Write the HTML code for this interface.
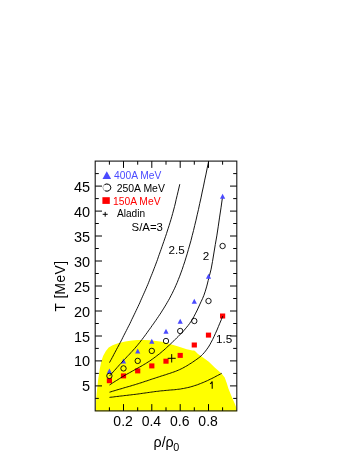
<!DOCTYPE html>
<html><head><meta charset="utf-8"><title>T vs rho</title>
<style>html,body{margin:0;padding:0;background:#fff;}body{width:360px;height:466px;overflow:hidden;}svg{display:block;will-change:transform;opacity:0.999;}text{font-family:"Liberation Sans",sans-serif;}</style>
</head><body>
<svg width="360" height="466" viewBox="0 0 360 466">
<rect x="0" y="0" width="360" height="466" fill="#ffffff"/>
<polygon fill="#ffff00" points="95.3,411.2 96.5,395.0 98.1,380.0 99.8,368.7 101.4,360.9 103.1,355.9 105.9,350.9 108.7,347.6 112.6,345.3 118.7,343.1 125.3,341.5 132.0,340.4 137.0,339.9 144.0,339.9 150.0,340.3 156.0,341.0 161.7,341.8 167.0,343.0 170.0,343.9 178.3,346.4 186.7,349.3 192.5,350.6 194.2,350.4 195.5,351.6 198.0,354.0 203.0,357.5 208.8,361.7 214.7,367.5 221.8,373.8 224.7,377.5 226.8,383.3 228.3,388.3 231.7,396.7 235.0,404.2 236.5,408.3 236.9,411.2"/>
<g stroke="#151515" stroke-width="1.1" fill="none">
<rect x="95.2" y="161.1" width="141.6" height="249.8"/>
</g>
<g stroke="#000" stroke-width="1" fill="none">
<line x1="109.4" y1="410.9" x2="109.4" y2="407.3"/>
<line x1="109.4" y1="161.1" x2="109.4" y2="164.7"/>
<line x1="123.5" y1="410.9" x2="123.5" y2="404.1"/>
<line x1="123.5" y1="161.1" x2="123.5" y2="167.9"/>
<line x1="137.7" y1="410.9" x2="137.7" y2="407.3"/>
<line x1="137.7" y1="161.1" x2="137.7" y2="164.7"/>
<line x1="151.8" y1="410.9" x2="151.8" y2="404.1"/>
<line x1="151.8" y1="161.1" x2="151.8" y2="167.9"/>
<line x1="166.0" y1="410.9" x2="166.0" y2="407.3"/>
<line x1="166.0" y1="161.1" x2="166.0" y2="164.7"/>
<line x1="180.2" y1="410.9" x2="180.2" y2="404.1"/>
<line x1="180.2" y1="161.1" x2="180.2" y2="167.9"/>
<line x1="194.3" y1="410.9" x2="194.3" y2="407.3"/>
<line x1="194.3" y1="161.1" x2="194.3" y2="164.7"/>
<line x1="208.5" y1="410.9" x2="208.5" y2="404.1"/>
<line x1="208.5" y1="161.1" x2="208.5" y2="167.9"/>
<line x1="222.6" y1="410.9" x2="222.6" y2="407.3"/>
<line x1="222.6" y1="161.1" x2="222.6" y2="164.7"/>
<line x1="95.2" y1="398.4" x2="98.8" y2="398.4"/>
<line x1="236.8" y1="398.4" x2="233.2" y2="398.4"/>
<line x1="95.2" y1="385.9" x2="102.0" y2="385.9"/>
<line x1="236.8" y1="385.9" x2="230.0" y2="385.9"/>
<line x1="95.2" y1="373.4" x2="98.8" y2="373.4"/>
<line x1="236.8" y1="373.4" x2="233.2" y2="373.4"/>
<line x1="95.2" y1="360.9" x2="102.0" y2="360.9"/>
<line x1="236.8" y1="360.9" x2="230.0" y2="360.9"/>
<line x1="95.2" y1="348.4" x2="98.8" y2="348.4"/>
<line x1="236.8" y1="348.4" x2="233.2" y2="348.4"/>
<line x1="95.2" y1="336.0" x2="102.0" y2="336.0"/>
<line x1="236.8" y1="336.0" x2="230.0" y2="336.0"/>
<line x1="95.2" y1="323.5" x2="98.8" y2="323.5"/>
<line x1="236.8" y1="323.5" x2="233.2" y2="323.5"/>
<line x1="95.2" y1="311.0" x2="102.0" y2="311.0"/>
<line x1="236.8" y1="311.0" x2="230.0" y2="311.0"/>
<line x1="95.2" y1="298.5" x2="98.8" y2="298.5"/>
<line x1="236.8" y1="298.5" x2="233.2" y2="298.5"/>
<line x1="95.2" y1="286.0" x2="102.0" y2="286.0"/>
<line x1="236.8" y1="286.0" x2="230.0" y2="286.0"/>
<line x1="95.2" y1="273.5" x2="98.8" y2="273.5"/>
<line x1="236.8" y1="273.5" x2="233.2" y2="273.5"/>
<line x1="95.2" y1="261.0" x2="102.0" y2="261.0"/>
<line x1="236.8" y1="261.0" x2="230.0" y2="261.0"/>
<line x1="95.2" y1="248.5" x2="98.8" y2="248.5"/>
<line x1="236.8" y1="248.5" x2="233.2" y2="248.5"/>
<line x1="95.2" y1="236.0" x2="102.0" y2="236.0"/>
<line x1="236.8" y1="236.0" x2="230.0" y2="236.0"/>
<line x1="95.2" y1="223.5" x2="98.8" y2="223.5"/>
<line x1="236.8" y1="223.5" x2="233.2" y2="223.5"/>
<line x1="95.2" y1="211.1" x2="102.0" y2="211.1"/>
<line x1="236.8" y1="211.1" x2="230.0" y2="211.1"/>
<line x1="95.2" y1="198.6" x2="98.8" y2="198.6"/>
<line x1="236.8" y1="198.6" x2="233.2" y2="198.6"/>
<line x1="95.2" y1="186.1" x2="102.0" y2="186.1"/>
<line x1="236.8" y1="186.1" x2="230.0" y2="186.1"/>
<line x1="95.2" y1="173.6" x2="98.8" y2="173.6"/>
<line x1="236.8" y1="173.6" x2="233.2" y2="173.6"/>
</g>
<g font-size="14.5px" fill="#000">
<text x="90.1" y="391.4" text-anchor="end">5</text>
<text x="90.1" y="366.4" text-anchor="end">10</text>
<text x="90.1" y="341.5" text-anchor="end">15</text>
<text x="90.1" y="316.5" text-anchor="end">20</text>
<text x="90.1" y="291.5" text-anchor="end">25</text>
<text x="90.1" y="266.5" text-anchor="end">30</text>
<text x="90.1" y="241.5" text-anchor="end">35</text>
<text x="90.1" y="216.6" text-anchor="end">40</text>
<text x="90.1" y="191.6" text-anchor="end">45</text>
</g>
<g font-size="14.0px" fill="#000">
<text x="123.1" y="426.1" text-anchor="middle">0.2</text>
<text x="151.4" y="426.1" text-anchor="middle">0.4</text>
<text x="179.8" y="426.1" text-anchor="middle">0.6</text>
<text x="208.1" y="426.1" text-anchor="middle">0.8</text>
</g>
<text font-size="13.8px" letter-spacing="0.4" transform="translate(65.0,286.0) rotate(-90)" text-anchor="middle">T [MeV]</text>
<text font-size="14.3px" x="153.5" y="447">ρ/ρ<tspan font-size="10.8px" dx="-0.6" dy="3.8">0</tspan></text>
<rect fill="#ff0000" x="106.8" y="378.2" width="5.2" height="5.0"/>
<rect fill="#ff0000" x="120.9" y="373.4" width="5.2" height="5.0"/>
<rect fill="#ff0000" x="135.1" y="368.4" width="5.2" height="5.0"/>
<rect fill="#ff0000" x="149.2" y="363.4" width="5.2" height="5.0"/>
<rect fill="#ff0000" x="163.4" y="358.7" width="5.2" height="5.0"/>
<rect fill="#ff0000" x="177.6" y="352.9" width="5.2" height="5.0"/>
<rect fill="#ff0000" x="191.7" y="342.5" width="5.2" height="5.0"/>
<rect fill="#ff0000" x="205.9" y="332.6" width="5.2" height="5.0"/>
<rect fill="#ff0000" x="220.0" y="313.5" width="5.2" height="5.0"/>
<path d="M109.5,397.4 L110.9,397.2 L112.3,397.1 L113.8,396.9 L115.2,396.7 L116.6,396.5 L118.0,396.4 L119.4,396.2 L120.9,396.0 L122.3,395.9 L123.7,395.7 L125.1,395.5 L126.5,395.4 L128.0,395.2 L129.4,395.0 L130.8,394.9 L132.2,394.7 L133.6,394.5 L135.1,394.4 L136.5,394.2 L137.9,394.0 L139.3,393.8 L140.7,393.6 L142.2,393.4 L143.6,393.2 L145.0,393.0 L146.4,392.8 L147.8,392.6 L149.3,392.4 L150.7,392.2 L152.1,392.0 L153.5,391.8 L154.9,391.6 L156.4,391.4 L157.8,391.3 L159.2,391.1 L160.6,390.9 L162.0,390.8 L163.5,390.7 L164.9,390.5 L166.3,390.4 L167.7,390.3 L169.2,390.1 L170.6,390.0 L172.0,389.9 L173.4,389.8 L174.8,389.7 L176.3,389.5 L177.7,389.3 L179.1,389.2 L180.5,389.0 L181.9,388.7 L183.4,388.5 L184.8,388.2 L186.2,387.9 L187.6,387.6 L189.0,387.3 L190.5,386.9 L191.9,386.5 L193.3,386.1 L194.7,385.6 L196.1,385.2 L197.6,384.7 L199.0,384.1 L200.4,383.6 L201.8,383.0 L203.2,382.5 L204.7,381.8 L206.1,381.2 L207.5,380.6 L208.9,379.9 L210.3,379.2 L211.8,378.5 L213.2,377.8 L214.6,377.1 L216.0,376.3 L217.4,375.6 L218.9,374.8 L220.3,374.1 L221.7,373.3" fill="none" stroke="#000" stroke-width="0.92"/>
<path d="M109.5,392.2 L110.9,391.8 L112.4,391.3 L113.8,390.9 L115.2,390.5 L116.7,390.0 L118.1,389.6 L119.5,389.2 L121.0,388.8 L122.4,388.4 L123.8,387.9 L125.3,387.5 L126.7,387.1 L128.1,386.7 L129.6,386.3 L131.0,385.9 L132.4,385.4 L133.9,385.0 L135.3,384.6 L136.7,384.1 L138.2,383.7 L139.6,383.2 L141.0,382.8 L142.5,382.3 L143.9,381.8 L145.3,381.3 L146.8,380.9 L148.2,380.4 L149.6,379.9 L151.1,379.4 L152.5,378.9 L153.9,378.5 L155.4,378.0 L156.8,377.5 L158.2,377.1 L159.7,376.6 L161.1,376.1 L162.5,375.7 L164.0,375.2 L165.4,374.8 L166.8,374.3 L168.2,373.8 L169.7,373.4 L171.1,372.9 L172.5,372.4 L174.0,371.9 L175.4,371.4 L176.8,370.8 L178.3,370.2 L179.7,369.6 L181.1,368.9 L182.6,368.2 L184.0,367.4 L185.4,366.6 L186.9,365.8 L188.3,364.9 L189.7,364.0 L191.2,363.1 L192.6,362.2 L194.0,361.2 L195.5,360.2 L196.9,359.2 L198.3,358.2 L199.8,357.0 L201.2,355.8 L202.6,354.4 L204.1,352.8 L205.5,351.1 L206.9,349.2 L208.4,347.1 L209.8,344.8 L211.2,342.2 L212.7,339.4 L214.1,336.4 L215.5,333.3 L217.0,330.0 L218.4,326.6 L219.8,323.2 L221.3,319.7 L222.7,316.2" fill="none" stroke="#000" stroke-width="0.92"/>
<path d="M109.5,385.0 L110.9,384.1 L112.4,383.1 L113.8,382.2 L115.2,381.3 L116.7,380.4 L118.1,379.5 L119.5,378.6 L120.9,377.7 L122.4,376.8 L123.8,376.0 L125.2,375.1 L126.7,374.3 L128.1,373.5 L129.5,372.7 L131.0,371.9 L132.4,371.1 L133.8,370.3 L135.2,369.5 L136.7,368.7 L138.1,367.9 L139.5,367.1 L141.0,366.3 L142.4,365.5 L143.8,364.6 L145.3,363.8 L146.7,362.9 L148.1,362.0 L149.6,361.1 L151.0,360.1 L152.4,359.1 L153.8,358.1 L155.3,357.0 L156.7,355.9 L158.1,354.8 L159.6,353.7 L161.0,352.5 L162.4,351.3 L163.9,350.1 L165.3,348.8 L166.7,347.5 L168.1,346.2 L169.6,344.9 L171.0,343.5 L172.4,342.2 L173.9,340.8 L175.3,339.4 L176.7,337.9 L178.2,336.5 L179.6,335.0 L181.0,333.6 L182.4,332.1 L183.9,330.5 L185.3,328.9 L186.7,327.2 L188.2,325.4 L189.6,323.5 L191.0,321.4 L192.5,319.1 L193.9,316.6 L195.3,313.9 L196.8,311.0 L198.2,308.0 L199.6,304.9 L201.0,301.8 L202.5,298.7 L203.9,295.3 L205.3,291.2 L206.8,286.1 L208.2,280.5 L209.6,275.1 L211.1,269.2 L212.5,261.5 L213.9,253.0 L215.3,244.5 L216.8,235.9 L218.2,226.8 L219.6,217.1 L221.1,207.2 L222.5,197.0" fill="none" stroke="#000" stroke-width="0.92"/>
<polygon fill="#4a4aff" points="109.4,368.6 106.8,373.6 112.0,373.6"/>
<polygon fill="#4a4aff" points="123.5,358.6 120.9,363.6 126.1,363.6"/>
<polygon fill="#4a4aff" points="137.7,348.6 135.1,353.6 140.3,353.6"/>
<polygon fill="#4a4aff" points="151.8,338.7 149.2,343.7 154.4,343.7"/>
<polygon fill="#4a4aff" points="166.0,328.7 163.4,333.7 168.6,333.7"/>
<polygon fill="#4a4aff" points="180.2,318.7 177.6,323.7 182.8,323.7"/>
<polygon fill="#4a4aff" points="194.3,298.7 191.7,303.7 196.9,303.7"/>
<polygon fill="#4a4aff" points="208.5,273.7 205.9,278.7 211.1,278.7"/>
<polygon fill="#4a4aff" points="222.6,193.8 220.0,198.8 225.2,198.8"/>
<path d="M109.5,376.0 L110.8,374.6 L112.0,373.2 L113.3,371.8 L114.5,370.4 L115.8,369.0 L117.0,367.6 L118.3,366.2 L119.5,364.8 L120.8,363.5 L122.0,362.1 L123.3,360.7 L124.5,359.4 L125.8,358.1 L127.0,356.7 L128.3,355.4 L129.6,354.1 L130.8,352.7 L132.1,351.4 L133.3,350.0 L134.6,348.6 L135.8,347.1 L137.1,345.7 L138.3,344.2 L139.6,342.6 L140.8,341.0 L142.1,339.4 L143.3,337.8 L144.6,336.1 L145.8,334.4 L147.1,332.7 L148.3,330.9 L149.6,329.2 L150.9,327.4 L152.1,325.6 L153.4,323.9 L154.6,322.1 L155.9,320.3 L157.1,318.5 L158.4,316.6 L159.6,314.8 L160.9,312.9 L162.1,310.9 L163.4,308.9 L164.6,306.9 L165.9,304.8 L167.1,302.7 L168.4,300.5 L169.7,298.2 L170.9,295.8 L172.2,293.4 L173.4,290.8 L174.7,288.2 L175.9,285.4 L177.2,282.5 L178.4,279.4 L179.7,276.2 L180.9,272.9 L182.2,269.4 L183.4,265.7 L184.7,261.9 L185.9,257.9 L187.2,253.8 L188.4,249.5 L189.7,245.0 L191.0,240.4 L192.2,235.6 L193.5,230.6 L194.7,225.5 L196.0,220.2 L197.2,214.8 L198.5,209.3 L199.7,203.6 L201.0,197.9 L202.2,192.0 L203.5,186.1 L204.7,180.1 L206.0,174.1 L207.2,168.1 L208.5,162.0" fill="none" stroke="#000" stroke-width="0.92"/>
<path d="M109.5,362.6 L110.4,360.9 L111.3,359.3 L112.2,357.6 L113.1,356.0 L113.9,354.3 L114.8,352.7 L115.7,351.0 L116.6,349.3 L117.5,347.6 L118.4,346.0 L119.3,344.3 L120.2,342.6 L121.1,340.9 L122.0,339.2 L122.8,337.5 L123.7,335.7 L124.6,334.0 L125.5,332.2 L126.4,330.5 L127.3,328.7 L128.2,326.9 L129.1,325.2 L130.0,323.4 L130.9,321.5 L131.7,319.7 L132.6,317.9 L133.5,316.0 L134.4,314.2 L135.3,312.3 L136.2,310.4 L137.1,308.5 L138.0,306.6 L138.9,304.7 L139.8,302.8 L140.6,300.8 L141.5,298.8 L142.4,296.8 L143.3,294.8 L144.2,292.8 L145.1,290.8 L146.0,288.7 L146.9,286.6 L147.8,284.5 L148.7,282.3 L149.5,280.2 L150.4,277.9 L151.3,275.7 L152.2,273.5 L153.1,271.2 L154.0,268.8 L154.9,266.5 L155.8,264.1 L156.7,261.7 L157.6,259.3 L158.4,256.8 L159.3,254.3 L160.2,251.8 L161.1,249.3 L162.0,246.7 L162.9,244.1 L163.8,241.5 L164.7,238.9 L165.6,236.3 L166.5,233.6 L167.3,231.0 L168.2,228.3 L169.1,225.5 L170.0,222.6 L170.9,219.7 L171.8,216.6 L172.7,213.4 L173.6,210.0 L174.5,206.6 L175.4,203.0 L176.2,199.3 L177.1,195.6 L178.0,191.8 L178.9,188.0 L179.8,184.2" fill="none" stroke="#000" stroke-width="0.92"/>
<circle cx="109.4" cy="375.9" r="2.7" fill="none" stroke="#000" stroke-width="0.9"/>
<circle cx="123.5" cy="368.4" r="2.7" fill="none" stroke="#000" stroke-width="0.9"/>
<circle cx="137.7" cy="360.9" r="2.7" fill="none" stroke="#000" stroke-width="0.9"/>
<circle cx="151.8" cy="350.9" r="2.7" fill="none" stroke="#000" stroke-width="0.9"/>
<circle cx="166.0" cy="341.0" r="2.7" fill="none" stroke="#000" stroke-width="0.9"/>
<circle cx="180.2" cy="331.0" r="2.7" fill="none" stroke="#000" stroke-width="0.9"/>
<circle cx="194.3" cy="321.0" r="2.7" fill="none" stroke="#000" stroke-width="0.9"/>
<circle cx="208.5" cy="301.0" r="2.7" fill="none" stroke="#000" stroke-width="0.9"/>
<circle cx="222.6" cy="246.0" r="2.7" fill="none" stroke="#000" stroke-width="0.9"/>
<path d="M167.7,358.3 H175.7 M171.7,354.1 V362.5" stroke="#000" stroke-width="1" fill="none"/>
<polygon fill="#4a4aff" points="106.8,171.3 102.5,178.9 111.1,178.9"/>
<ellipse cx="106.9" cy="187.6" rx="4.0" ry="3.6" fill="#fff" stroke="#a8a8a8" stroke-width="0.9"/>
<path d="M104.6,184.6 A4.0,3.6 0 1 1 105.2,190.9" fill="none" stroke="#111" stroke-width="1.0"/>
<rect fill="#ff0000" x="102.4" y="197.2" width="7.4" height="6.7"/>
<path d="M102.7,214.3 H107.7 M105.2,211.9 V216.7" stroke="#000" stroke-width="1" fill="none"/>
<g font-size="10.1px">
<text x="114.1" y="178.8" fill="#4a4aff" font-size="10.25px">400A MeV</text>
<text x="116.7" y="191.7" fill="#000" font-size="10.45px">250A MeV</text>
<text x="113.0" y="204.6" fill="#ff0000" font-size="10.3px">150A MeV</text>
<text x="117.0" y="217.0" fill="#000">Aladin</text>
</g>
<g font-size="11.7px" fill="#000">
<text x="131.6" y="231.0" font-size="11.4px">S/A=3</text>
<text x="168.5" y="253.9">2.5</text>
<text x="202.7" y="259.7">2</text>
<text x="215.9" y="343.2">1.5</text>
<path d="M210.0,383.7 Q211.6,383.2 212.2,381.5 V388.8" fill="none" stroke="#000" stroke-width="1.05"/>
</g>
</svg>
</body></html>
